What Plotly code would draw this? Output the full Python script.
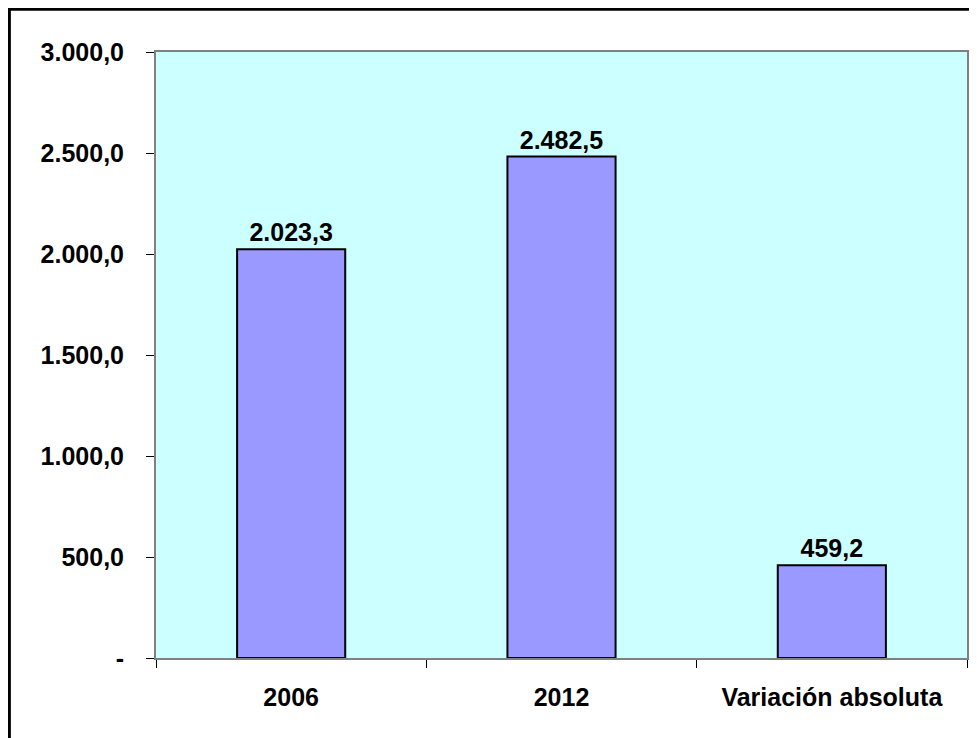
import plotly.graph_objects as go

categorias = ["2006", "2012", "Variación absoluta"]
valores = [2023.3, 2482.5, 459.2]
y_ticks = [0, 500, 1000, 1500, 2000, 2500, 3000]
y_tick_text = ["-", "500,0", "1.000,0", "1.500,0", "2.000,0", "2.500,0", "3.000,0"]


def fmt(v):
    # formato espanol: punto para miles, coma para decimales
    s = f"{v:,.1f}"
    return s.replace(",", "X").replace(".", ",").replace("X", ".")


font_b = dict(family="Liberation Sans, Arial", size=25, color="black", weight="bold")

fig = go.Figure()
fig.add_trace(go.Bar(
    x=categorias, y=valores,
    text=[fmt(v) for v in valores],
    textposition="outside",
    textfont=font_b,
    cliponaxis=False,
    marker=dict(color="#9999FF", line=dict(color="black", width=2)),
))

# the page body has an 8px margin, so the figure is 8px smaller
fig.update_layout(
    width=969, height=730,
    margin=dict(l=148, r=8, t=44, b=80),
    paper_bgcolor="white",
    plot_bgcolor="#CCFFFF",
    bargap=0.6,
    showlegend=False,
    font=font_b,
    xaxis=dict(
        type="category", tickson="boundaries", ticks="outside", ticklen=8,
        tickcolor="black", showline=True, linecolor="#808080", linewidth=2,
        mirror=True, showgrid=False, ticklabelstandoff=16, tickfont=font_b,
    ),
    yaxis=dict(
        range=[0, 3000], tickvals=y_ticks, ticktext=y_tick_text,
        ticks="outside", ticklen=8, tickcolor="black", showline=True,
        linecolor="#808080", linewidth=2, mirror=True, showgrid=False,
        zeroline=False, ticklabelstandoff=17, tickfont=font_b,
    ),
    shapes=[dict(
        type="rect", xref="paper", yref="paper",
        x0=-0.1808, x1=1.03, y0=-0.16, y1=1.0705,
        line=dict(color="black", width=3), layer="below",
    )],
)

fig.write_html("out.html")
